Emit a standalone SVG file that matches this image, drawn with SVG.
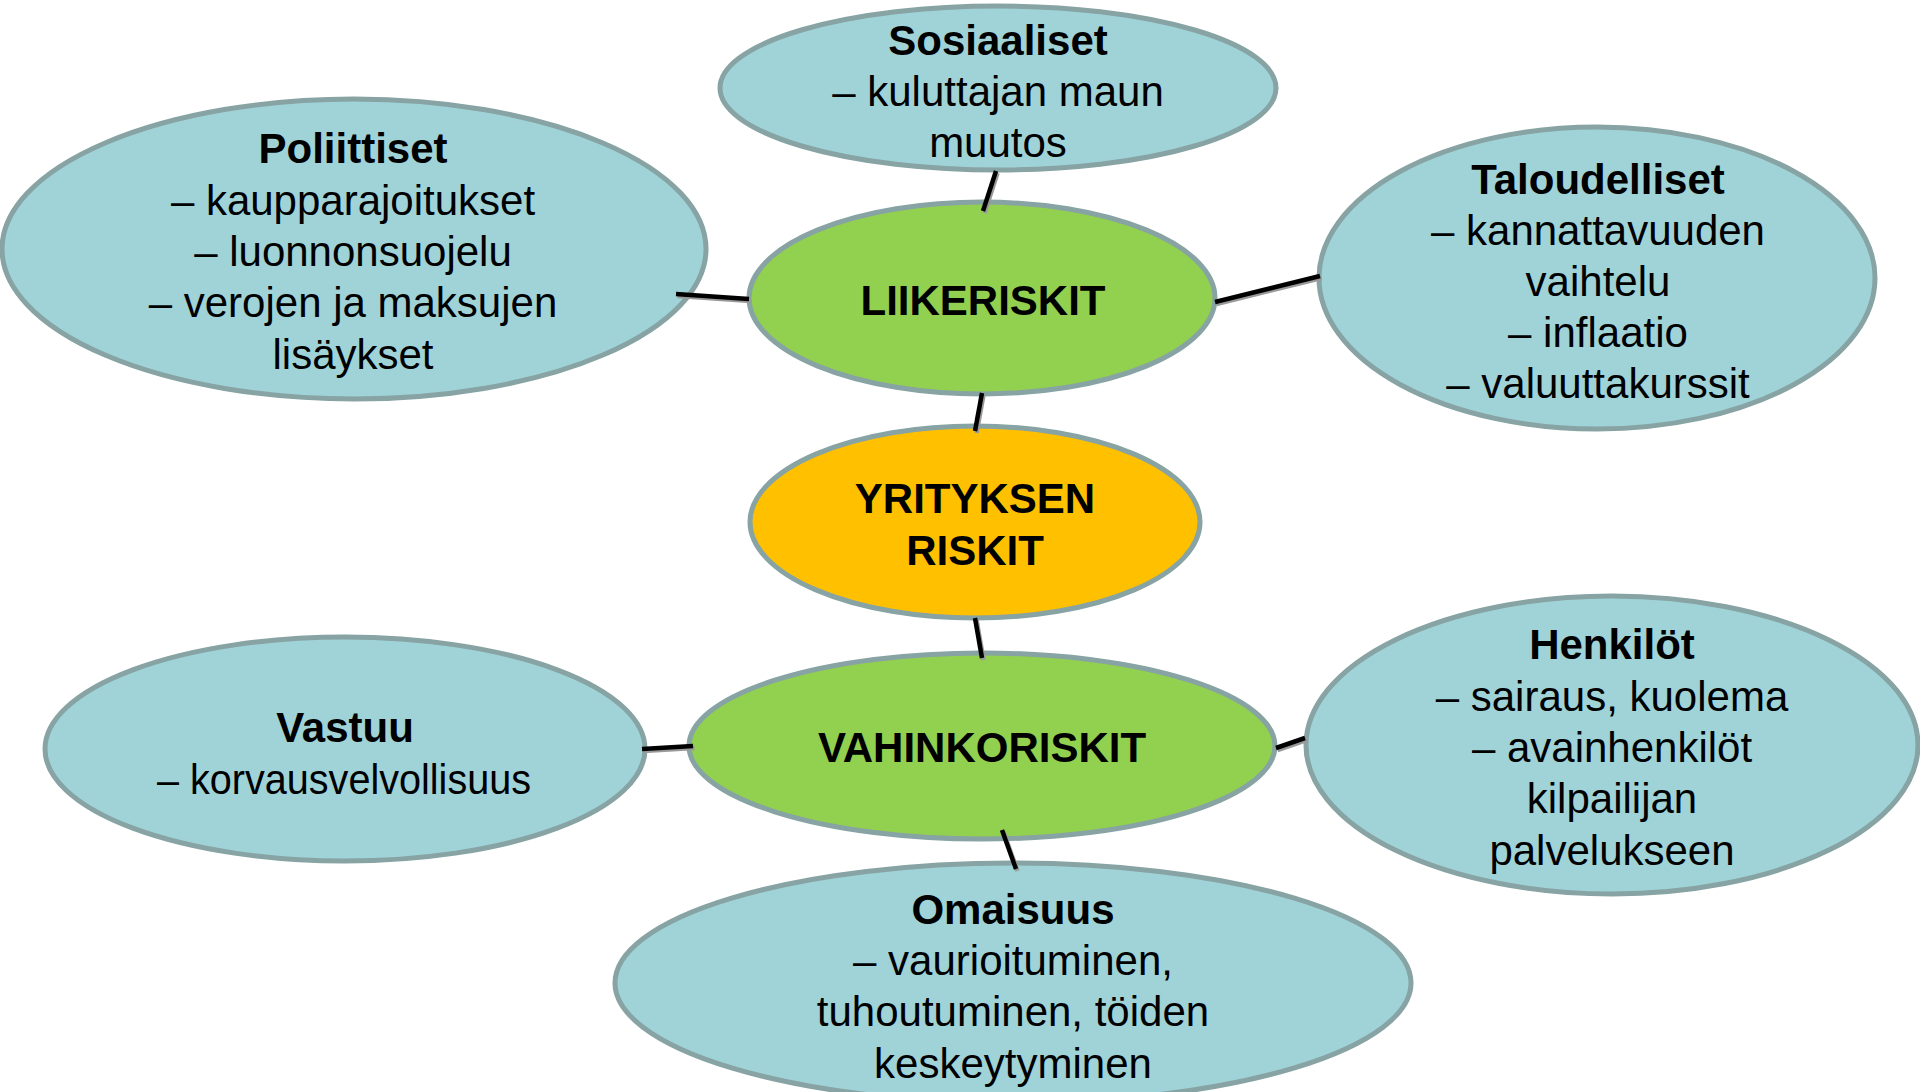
<svg xmlns="http://www.w3.org/2000/svg" width="1920" height="1092" viewBox="0 0 1920 1092">
<style>
.b{fill:#9FD3D8;stroke:#87A3A3;stroke-width:5}
.g{fill:#92D050;stroke:#87A3A3;stroke-width:5}
.o{fill:#FFC000;stroke:#87A3A3;stroke-width:5}
text{font-family:"Liberation Sans",Arial,sans-serif;font-size:42px;fill:#000;text-anchor:middle}
.h{font-weight:bold}
.c line{stroke:#000;stroke-width:4.5}
.s line{stroke:#999;stroke-width:4.5}
</style>
<rect width="1920" height="1092" fill="#fff"/>
<g id="sosiaaliset"><ellipse class="b" cx="998" cy="88" rx="278" ry="82"/>
<text x="998" y="55" class="h">Sosiaaliset</text><text x="998" y="106">– kuluttajan maun</text><text x="998" y="157">muutos</text></g>
<g id="poliittiset"><ellipse class="b" cx="354" cy="249" rx="352" ry="150"/>
<text x="353" y="163" class="h">Poliittiset</text><text x="353" y="215">– kaupparajoitukset</text><text x="353" y="266">– luonnonsuojelu</text><text x="353" y="317">– verojen ja maksujen</text><text x="353" y="369">lisäykset</text></g>
<g id="taloudelliset"><ellipse class="b" cx="1597" cy="278" rx="278" ry="151"/>
<text x="1598" y="194" class="h">Taloudelliset</text><text x="1598" y="245">– kannattavuuden</text><text x="1598" y="296">vaihtelu</text><text x="1598" y="347">– inflaatio</text><text x="1598" y="398">– valuuttakurssit</text></g>
<g id="liikeriskit"><ellipse class="g" cx="982" cy="298" rx="233" ry="96"/>
<text x="983" y="315" class="h">LIIKERISKIT</text></g>
<g id="yrityksen"><ellipse class="o" cx="975" cy="522" rx="225" ry="96"/>
<text x="975" y="513" class="h">YRITYKSEN</text><text x="975" y="565" class="h">RISKIT</text></g>
<g id="vastuu"><ellipse class="b" cx="345" cy="749" rx="300" ry="112"/>
<text x="345" y="742" class="h">Vastuu</text><text x="344" y="794" textLength="374" lengthAdjust="spacingAndGlyphs">– korvausvelvollisuus</text></g>
<g id="henkilot"><ellipse class="b" cx="1612" cy="745" rx="306" ry="149"/>
<text x="1612" y="659" class="h">Henkilöt</text><text x="1612" y="711">– sairaus, kuolema</text><text x="1612" y="762">– avainhenkilöt</text><text x="1612" y="813">kilpailijan</text><text x="1612" y="865">palvelukseen</text></g>
<g id="omaisuus"><ellipse class="b" cx="1013" cy="983" rx="398" ry="120"/>
<text x="1013" y="924" class="h">Omaisuus</text><text x="1013" y="975">– vaurioituminen,</text><text x="1013" y="1026">tuhoutuminen, töiden</text><text x="1013" y="1078">keskeytyminen</text></g>
<g id="vahinkoriskit"><ellipse class="g" cx="982" cy="746" rx="293" ry="93"/>
<text x="982" y="762" class="h">VAHINKORISKIT</text></g>
<g id="connectors">
<g class="s" transform="translate(1.5,2)">
<line x1="996" y1="171" x2="983" y2="211"/><line x1="676" y1="294" x2="749" y2="299"/><line x1="1215" y1="302" x2="1320" y2="276"/><line x1="982" y1="393" x2="975" y2="431"/><line x1="975" y1="618" x2="982" y2="658"/><line x1="642" y1="749" x2="693" y2="746"/><line x1="1276" y1="748" x2="1305" y2="738"/><line x1="1002" y1="830" x2="1016" y2="869"/>
</g>
<g class="c">
<line x1="996" y1="171" x2="983" y2="211"/><line x1="676" y1="294" x2="749" y2="299"/><line x1="1215" y1="302" x2="1320" y2="276"/><line x1="982" y1="393" x2="975" y2="431"/><line x1="975" y1="618" x2="982" y2="658"/><line x1="642" y1="749" x2="693" y2="746"/><line x1="1276" y1="748" x2="1305" y2="738"/><line x1="1002" y1="830" x2="1016" y2="869"/>
</g>
</g>
</svg>
